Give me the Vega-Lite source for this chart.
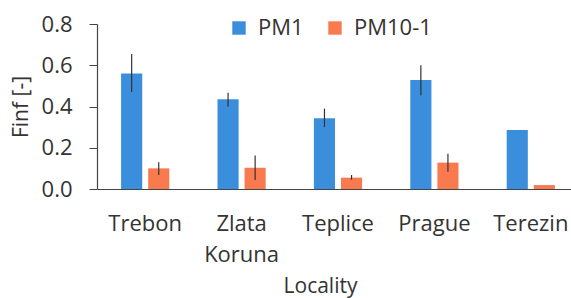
{
  "$schema": "https://vega.github.io/schema/vega-lite/v6.json",
  "width": 482,
  "height": 165,
  "autosize": "none",
  "padding": {"left": 97, "top": 24, "right": 0, "bottom": 109},
  "background": "white",
  "config": {
    "view": {"stroke": null},
    "font": "Open Sans"
  },
  "data": {
    "values": [
      {"locality": "Trebon", "fraction": "PM1", "finf": 0.56, "lo": 0.47, "hi": 0.655},
      {"locality": "Trebon", "fraction": "PM10-1", "finf": 0.10, "lo": 0.068, "hi": 0.13},
      {"locality": "Zlata Koruna", "fraction": "PM1", "finf": 0.435, "lo": 0.40, "hi": 0.467},
      {"locality": "Zlata Koruna", "fraction": "PM10-1", "finf": 0.103, "lo": 0.044, "hi": 0.163},
      {"locality": "Teplice", "fraction": "PM1", "finf": 0.343, "lo": 0.30, "hi": 0.39},
      {"locality": "Teplice", "fraction": "PM10-1", "finf": 0.055, "lo": 0.045, "hi": 0.068},
      {"locality": "Prague", "fraction": "PM1", "finf": 0.528, "lo": 0.455, "hi": 0.60},
      {"locality": "Prague", "fraction": "PM10-1", "finf": 0.128, "lo": 0.084, "hi": 0.171},
      {"locality": "Terezin", "fraction": "PM1", "finf": 0.286, "lo": null, "hi": null},
      {"locality": "Terezin", "fraction": "PM10-1", "finf": 0.019, "lo": null, "hi": null}
    ]
  },
  "encoding": {
    "x": {
      "field": "locality",
      "type": "nominal",
      "sort": ["Trebon", "Zlata Koruna", "Teplice", "Prague", "Terezin"],
      "scale": {"paddingInner": 0.5, "paddingOuter": 0.25},
      "axis": {
        "title": "Locality",
        "titleFont": "Open Sans",
        "titleFontSize": 21,
        "titleFontWeight": "normal",
        "titleColor": "#333333",
        "titlePadding": 10,
        "titleX": 223,
        "labelExpr": "split(datum.label, ' ')",
        "labelAngle": 0,
        "labelFontSize": 22,
        "labelColor": "#333333",
        "labelPadding": 24,
        "labelLineHeight": 31,
        "ticks": false,
        "domainColor": "#444444",
        "domainWidth": 1.2
      }
    },
    "xOffset": {
      "field": "fraction",
      "type": "nominal",
      "sort": ["PM1", "PM10-1"],
      "scale": {"paddingInner": 0.22, "paddingOuter": 0}
    }
  },
  "layer": [
    {
      "mark": {"type": "bar"},
      "encoding": {
        "y": {
          "field": "finf",
          "type": "quantitative",
          "scale": {"domain": [0, 0.8], "nice": false},
          "axis": {
            "title": "Finf [-]",
            "titleFontSize": 21,
            "titleFontWeight": "normal",
            "titleColor": "#333333",
            "titlePadding": 10,
            "values": [0, 0.2, 0.4, 0.6, 0.8],
            "format": ".1f",
            "labelFontSize": 22,
            "labelColor": "#333333",
            "labelPadding": 17,
            "grid": false,
            "tickSize": 8,
            "tickColor": "#444444",
            "domainColor": "#444444",
            "domainWidth": 1.2
          }
        },
        "color": {
          "field": "fraction",
          "type": "nominal",
          "sort": ["PM1", "PM10-1"],
          "scale": {"domain": ["PM1", "PM10-1"], "range": ["#3a8edc", "#f97a4e"]},
          "legend": {
            "title": null,
            "orient": "none",
            "direction": "horizontal",
            "legendX": 131,
            "legendY": -7,
            "symbolType": "square",
            "symbolSize": 180,
            "symbolStrokeWidth": 0,
            "labelFontSize": 22,
            "labelColor": "#333333",
            "columnPadding": 20,
            "labelOffset": 8
          }
        }
      }
    },
    {
      "mark": {"type": "rule", "color": "#333333", "strokeWidth": 1.2},
      "encoding": {
        "y": {"field": "lo", "type": "quantitative"},
        "y2": {"field": "hi"}
      }
    }
  ]
}
